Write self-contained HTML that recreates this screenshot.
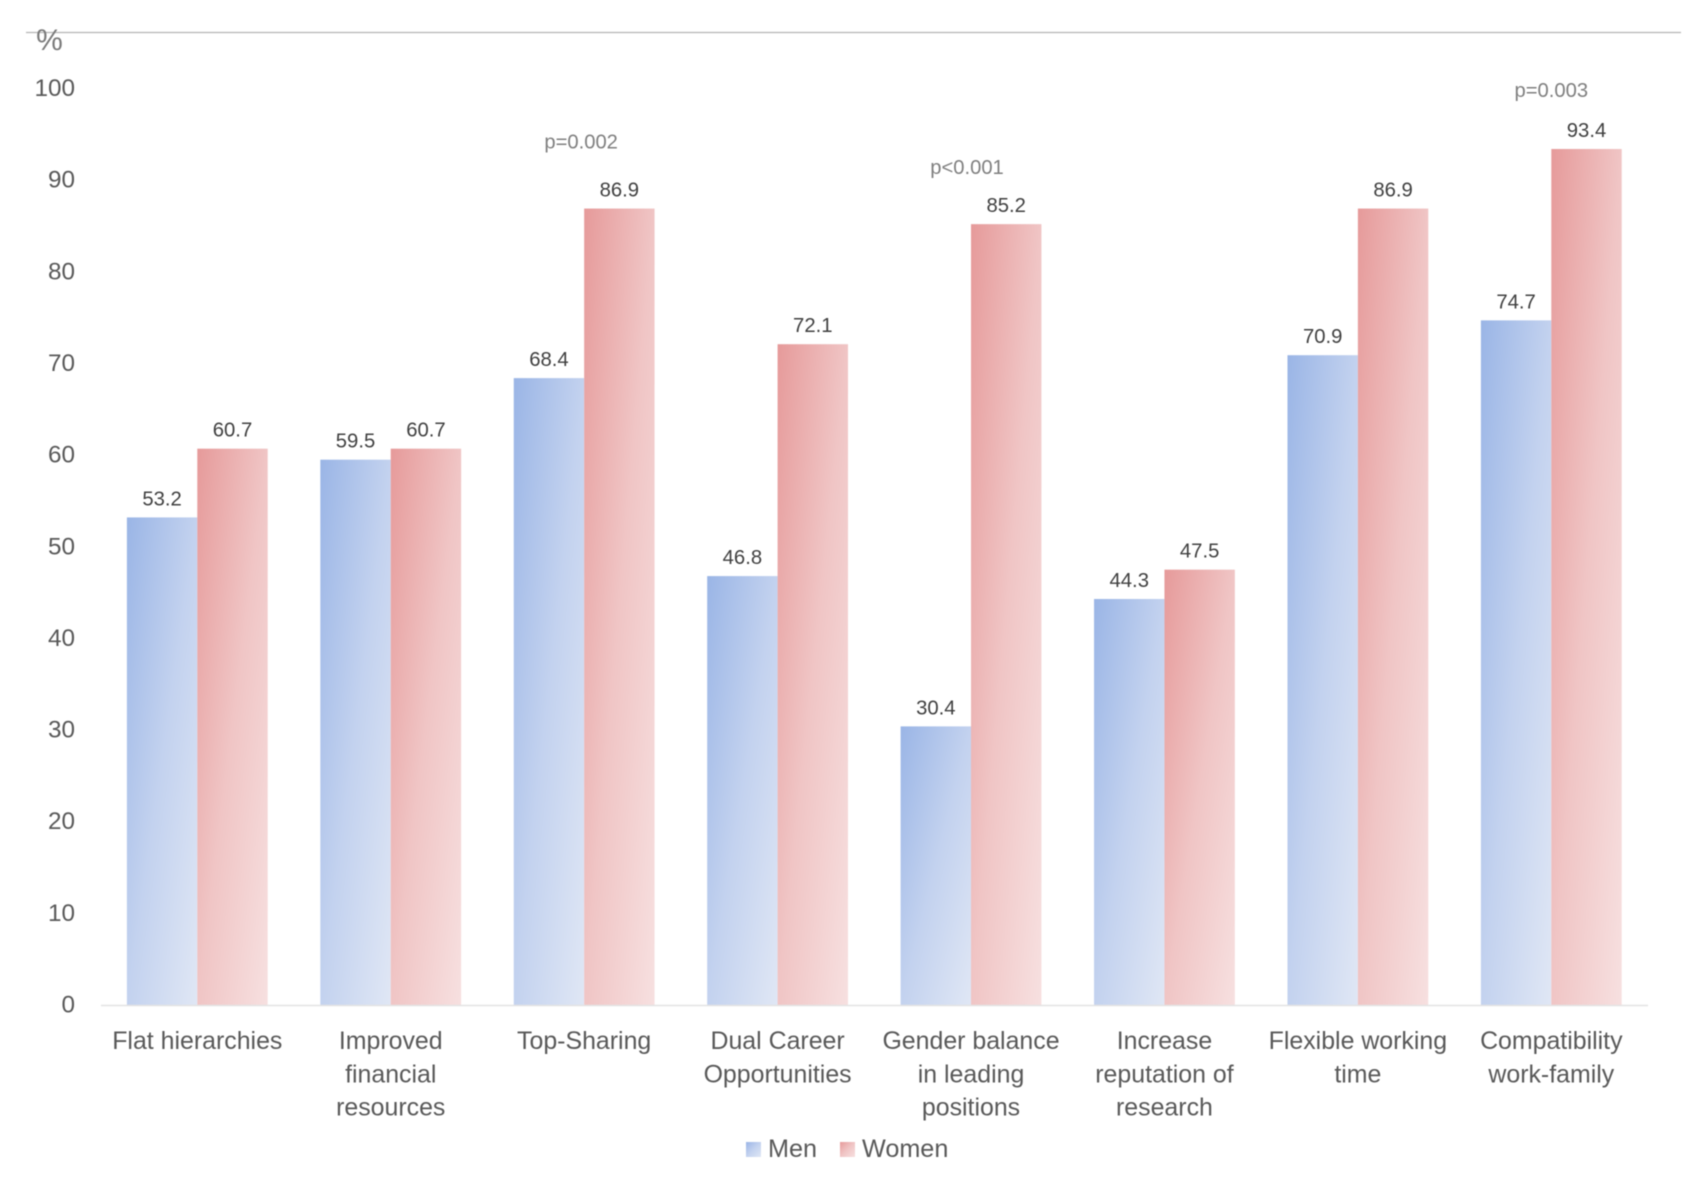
<!DOCTYPE html>
<html lang="en">
<head>
<meta charset="utf-8">
<title>Gender comparison bar chart</title>
<style>
html,body{margin:0;padding:0;background:#fff;width:1700px;height:1182px;overflow:hidden}
svg{display:block;font-family:"Liberation Sans",Arial,sans-serif;filter:blur(0.4px)}
</style>
</head>
<body>
<svg id="chart" xmlns="http://www.w3.org/2000/svg" width="1700" height="1182" viewBox="0 0 1700 1182">
  <defs>
    <linearGradient id="men-grad" x1="0" y1="0" x2="1" y2="1">
      <stop offset="0" stop-color="#9ab5e6"/>
      <stop offset="0.5" stop-color="#c3d2ef"/>
      <stop offset="1" stop-color="#e0e7f5"/>
    </linearGradient>
    <linearGradient id="women-grad" x1="0" y1="0" x2="1" y2="1">
      <stop offset="0" stop-color="#e69a9a"/>
      <stop offset="0.5" stop-color="#f0c5c5"/>
      <stop offset="1" stop-color="#f7e0e0"/>
    </linearGradient>
  </defs>
  <rect width="1700" height="1182" fill="#fff"/>
  <line x1="26" x2="1681" y1="32.5" y2="32.5" stroke="#b5b5b5" stroke-width="1.3"/>
  <text x="49.5" y="50" font-size="30" text-anchor="middle" fill="#7a7a7a">%</text>
  <g id="y-ticks"></g>
  <g id="bars"></g>
  <line x1="101" x2="1648" y1="1005.5" y2="1005.5" stroke="#e3e3e3" stroke-width="1.5"/>
  <g id="x-ticks"></g>
  <g id="annotations"></g>
  <g>
    <g>
      <rect x="746" y="1142" width="15" height="15" fill="url(#men-grad)"/>
      <text x="768" y="1157" font-size="25.2" fill="#595959">Men</text>
    </g>
    <g>
      <rect x="840" y="1142" width="15" height="15" fill="url(#women-grad)"/>
      <text x="862" y="1157" font-size="25.2" fill="#595959">Women</text>
    </g>
  </g>
</svg>
<script>
const categories = [
  ["Flat hierarchies"],
  ["Improved", "financial", "resources"],
  ["Top-Sharing"],
  ["Dual Career", "Opportunities"],
  ["Gender balance", "in leading", "positions"],
  ["Increase", "reputation of", "research"],
  ["Flexible working", "time"],
  ["Compatibility", "work-family"]
];
const menValues = [53.2, 59.5, 68.4, 46.8, 30.4, 44.3, 70.9, 74.7];
const womenValues = [60.7, 60.7, 86.9, 72.1, 85.2, 47.5, 86.9, 93.4];
const yTicks = [0, 10, 20, 30, 40, 50, 60, 70, 80, 90, 100];
const pLabels = ["", "", "p=0.002", "", "p<0.001", "", "", "p=0.003"];

const NS = "http://www.w3.org/2000/svg";
const baseY = 1005, unitY = 9.165, firstX = 197.3, stepX = 193.43, barW = 70.4;
const yScale = function (v) { return baseY - v * unitY; };
const xScale = function (i) { return firstX + i * stepX; };

function make(tag, parent) {
  const el = document.createElementNS(NS, tag);
  parent.appendChild(el);
  return el;
}

const yGroup = document.getElementById("y-ticks");
yTicks.forEach(function (t) {
  const el = make("text", yGroup);
  
  
  el.setAttribute("x", 75);
  el.setAttribute("y", yScale(t) + 7.5);
  el.setAttribute("font-size", 24.3);
  el.setAttribute("text-anchor", "end");
  el.setAttribute("fill", "#595959");
  el.textContent = t;
});

const barGroup = document.getElementById("bars");
function drawBar(i, value, offset, gradient) {
  const top = yScale(value);
  const r = make("rect", barGroup);
  
  
  r.setAttribute("x", xScale(i) + offset);
  r.setAttribute("y", top);
  r.setAttribute("width", barW);
  r.setAttribute("height", baseY - top);
  r.setAttribute("fill", gradient);
  const t = make("text", barGroup);
  
  
  t.setAttribute("x", xScale(i) + offset + barW / 2);
  t.setAttribute("y", top - 12);
  t.setAttribute("font-size", 20.3);
  t.setAttribute("text-anchor", "middle");
  t.setAttribute("fill", "#404040");
  t.textContent = value.toFixed(1);
}
categories.forEach(function (c, i) {
  drawBar(i, menValues[i], -barW, "url(#men-grad)");
  drawBar(i, womenValues[i], 0, "url(#women-grad)");
});

const xGroup = document.getElementById("x-ticks");
categories.forEach(function (lines, i) {
  lines.forEach(function (line, k) {
    const el = make("text", xGroup);
    
    
    el.setAttribute("x", xScale(i));
    el.setAttribute("y", 1049 + k * 33.3);
    el.setAttribute("font-size", 24.9);
    el.setAttribute("text-anchor", "middle");
    el.setAttribute("fill", "#595959");
    el.textContent = line;
  });
});

const pLayout = { 2: { dx: -3, lift: 60 }, 4: { dx: -4, lift: 50 }, 7: { dx: 0, lift: 52 } };
const annGroup = document.getElementById("annotations");
pLabels.forEach(function (label, i) {
  if (!label) return;
  const top = yScale(Math.max(menValues[i], womenValues[i]));
  const el = make("text", annGroup);
  
  
  el.setAttribute("x", xScale(i) + pLayout[i].dx);
  el.setAttribute("y", top - pLayout[i].lift);
  el.setAttribute("font-size", 20.2);
  el.setAttribute("text-anchor", "middle");
  el.setAttribute("fill", "#7f7f7f");
  el.textContent = label;
});
</script>
</body>
</html>
